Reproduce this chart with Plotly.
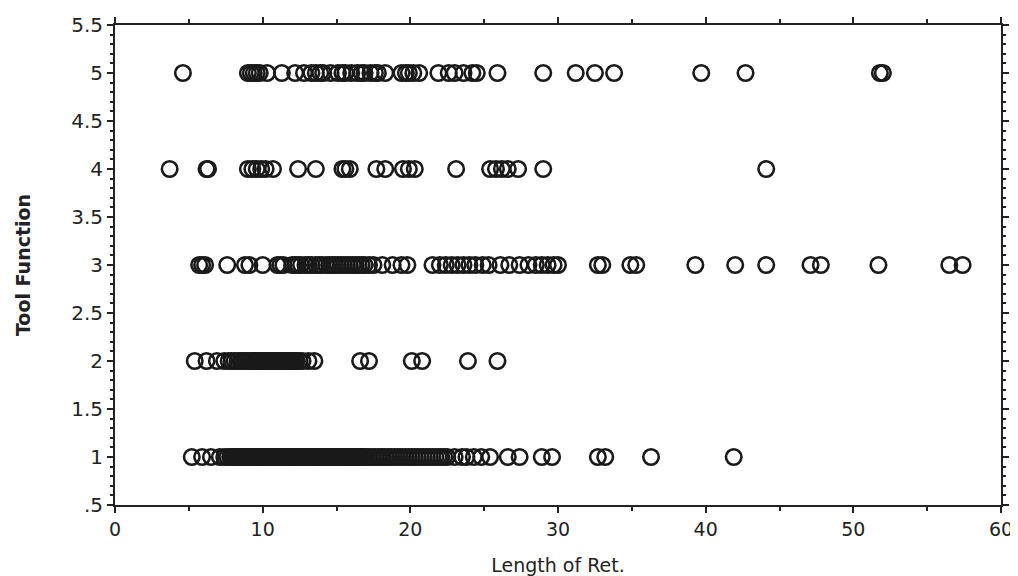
import plotly.graph_objects as go

# Length of Ret. values for each Tool Function level
tool1 = [5.2, 5.9, 6.5, 7.1, 7.4, 7.6, 7.8, 7.9, 8.0, 8.1, 8.2, 8.3, 8.4, 8.5, 8.6, 8.7,
         8.8, 8.9, 9.0, 9.1, 9.2, 9.3, 9.4, 9.5, 9.6, 9.7, 9.8, 9.9, 10.0, 10.1, 10.2,
         10.3, 10.4, 10.5, 10.6, 10.7, 10.8, 10.9, 11.0, 11.1, 11.2, 11.3, 11.4, 11.5,
         11.6, 11.7, 11.8, 11.9, 12.0, 12.1, 12.2, 12.3, 12.4, 12.5, 12.6, 12.7, 12.8,
         12.9, 13.0, 13.1, 13.2, 13.3, 13.4, 13.5, 13.6, 13.7, 13.8, 13.9, 14.0, 14.1,
         14.2, 14.3, 14.4, 14.5, 14.6, 14.7, 14.8, 14.9, 15.0, 15.1, 15.2, 15.3, 15.4,
         15.5, 15.6, 15.7, 15.8, 15.9, 16.0, 16.1, 16.2, 16.3, 16.4, 16.5, 16.6, 16.7,
         16.8, 16.9, 17.0, 17.2, 17.4, 17.6, 17.8, 18.0, 18.1, 18.3, 18.5, 18.7, 18.9,
         19.1, 19.3, 19.5, 19.7, 19.9, 20.1, 20.3, 20.5, 20.7, 20.9, 21.1, 21.3, 21.5,
         21.7, 21.9, 22.1, 22.3, 22.5, 23.0, 23.5, 23.8, 24.3, 24.8, 25.4, 26.6, 27.4,
         28.9, 29.6, 32.7, 33.2, 36.3, 41.9]
tool2 = [5.4, 6.2, 6.9, 7.4, 7.7, 7.9, 8.1, 8.3, 8.5, 8.6, 8.8, 8.9, 9.0, 9.2, 9.3, 9.4,
         9.5, 9.6, 9.7, 9.8, 9.9, 10.0, 10.1, 10.2, 10.3, 10.4, 10.5, 10.6, 10.7, 10.8,
         10.9, 11.0, 11.1, 11.2, 11.3, 11.4, 11.5, 11.6, 11.7, 11.8, 11.9, 12.0, 12.1,
         12.2, 12.3, 12.5, 12.7, 13.1, 13.5, 16.6, 17.2, 20.1, 20.8, 23.9, 25.9]
tool3 = [5.7, 5.9, 6.1, 7.6, 8.8, 9.1, 10.0, 11.0, 11.2, 11.4, 12.0, 12.2, 12.4, 12.6, 12.9,
         13.1, 13.3, 13.6, 13.8, 14.0, 14.3, 14.5, 14.7, 14.9, 15.1, 15.3, 15.5, 15.7, 15.9,
         16.1, 16.3, 16.5, 16.7, 16.9, 17.2, 17.5, 18.1, 18.8, 19.4, 19.8, 21.5, 22.0, 22.4,
         22.8, 23.2, 23.6, 24.0, 24.4, 24.9, 25.3, 26.1, 26.7, 27.4, 28.0, 28.5, 28.9, 29.3,
         29.7, 30.0, 32.7, 33.0, 34.9, 35.3, 39.3, 42.0, 44.1, 47.1, 47.8, 51.7, 56.5, 57.4]
tool4 = [3.7, 6.2, 6.3, 9.0, 9.3, 9.6, 9.9, 10.2, 10.7, 12.4, 13.6, 15.4, 15.6, 15.9, 17.7,
         18.3, 19.5, 19.9, 20.3, 23.1, 25.4, 25.8, 26.2, 26.6, 27.3, 29.0, 44.1]
tool5 = [4.6, 9.0, 9.2, 9.4, 9.6, 9.8, 10.3, 11.3, 12.2, 12.8, 13.3, 13.6, 13.9, 14.1, 14.6,
         15.1, 15.4, 15.6, 16.0, 16.4, 16.7, 16.9, 17.3, 17.6, 17.8, 18.3, 19.4, 19.7, 19.9,
         20.2, 20.6, 21.9, 22.6, 23.0, 23.6, 24.2, 24.5, 25.9, 29.0, 31.2, 32.5, 33.8, 39.7,
         42.7, 51.8, 52.0]

levels = [1, 2, 3, 4, 5]
groups = [tool1, tool2, tool3, tool4, tool5]

y_tickvals = [0.5, 1, 1.5, 2, 2.5, 3, 3.5, 4, 4.5, 5, 5.5]
y_ticktext = ['.5', '1', '1.5', '2', '2.5', '3', '3.5', '4', '4.5', '5', '5.5']
x_tickvals = [0, 10, 20, 30, 40, 50, 60]

xs, ys = [], []
for lvl, vals in zip(levels, groups):
    xs.extend(vals)
    ys.extend([lvl] * len(vals))

fig = go.Figure()
fig.add_trace(go.Scatter(
    x=xs, y=ys, mode='markers',
    marker=dict(symbol='circle-open', size=15.5, color='#1a1a1a',
                line=dict(width=2.6, color='#1a1a1a')),
    showlegend=False,
))

axis_common = dict(
    showline=True, linecolor='#222', linewidth=2, mirror='ticks',
    ticks='outside', ticklen=6, tickwidth=1.5, tickcolor='#222',
    showgrid=False, zeroline=False, automargin=False,
)

fig.update_xaxes(
    range=[0, 60], tickvals=x_tickvals,
    tickfont=dict(family='DejaVu Sans', size=19, color='#222'),
    minor=dict(dtick=5, ticks='outside', ticklen=4, tickcolor='#222', showgrid=False),
    title=dict(text='Length of Ret.', font=dict(family='DejaVu Sans', size=19, color='#222'), standoff=21),
    **axis_common,
)
fig.update_yaxes(
    range=[0.5, 5.5], tickvals=y_tickvals, ticktext=y_ticktext,
    tickfont=dict(family='DejaVu Sans', size=20, color='#222'),
    minor=dict(dtick=0.1, ticks='outside', ticklen=3, tickcolor='#222', showgrid=False),
    title=dict(text='<b>Tool Function</b>', font=dict(family='DejaVu Sans', size=19, color='#222'), standoff=36),
    **axis_common,
)

fig.update_layout(
    width=1010, height=568,
    margin=dict(l=107, r=17, t=17, b=71),
    paper_bgcolor='white', plot_bgcolor='white',
)

fig.write_html("out.html")
